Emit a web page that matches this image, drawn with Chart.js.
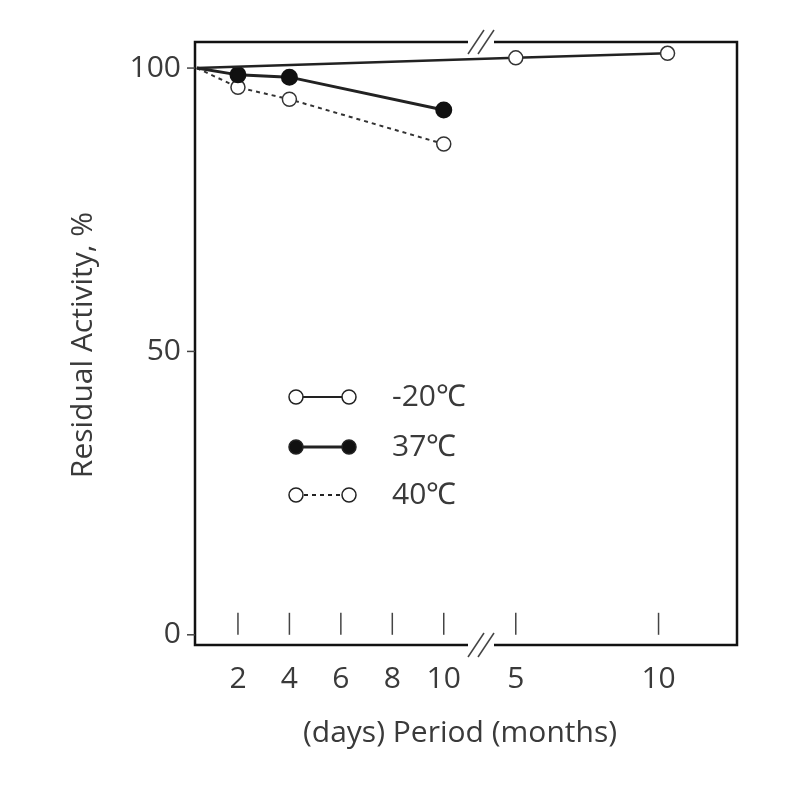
<!DOCTYPE html>
<html><head><script src="https://cdn.jsdelivr.net/npm/chart.js@4"></script>
<style>body{margin:0;background:#fff}</style></head>
<body><div style="width:800px;height:800px"><canvas id="c"></canvas></div>
<script>
// x positions: days map directly; months placed after axis break
const xTickPos = [2, 4, 6, 8, 10, 12.8, 18.35];
const xTickLabels = ['2', '4', '6', '8', '10', '5', '10'];
const yTicks = [0, 50, 100];
const minus20X = [0.4, 12.8, 18.7];
const minus20Y = [100, 101.8, 102.6];
const c37X = [0.4, 2, 4, 10];
const c37Y = [100, 98.8, 98.4, 92.6];
const c40X = [0.4, 2, 4, 10];
const c40Y = [100, 96.6, 94.5, 86.6];
const legendLabels = ['-20℃', '37℃', '40℃'];
const pts = (xs, ys) => xs.map((x, i) => ({x, y: ys[i]}));
const font = '"Open Sans", sans-serif';
const deco = {
  id: 'deco',
  afterDraw(ch) {
    const {ctx, chartArea: a, scales: {x, y}} = ch;
    ctx.save();
    ctx.strokeStyle = '#111'; ctx.lineWidth = 2.5;
    const bx1 = 468, bx2 = 494;
    ctx.beginPath();
    ctx.moveTo(bx1, a.top); ctx.lineTo(a.left, a.top); ctx.lineTo(a.left, a.bottom); ctx.lineTo(bx1, a.bottom);
    ctx.moveTo(bx2, a.bottom); ctx.lineTo(a.right, a.bottom); ctx.lineTo(a.right, a.top); ctx.lineTo(bx2, a.top);
    ctx.stroke();
    ctx.lineWidth = 1.5; ctx.strokeStyle = '#444';
    for (const yy of [a.top, a.bottom]) {
      for (const dx of [-5, 5]) {
        ctx.beginPath(); ctx.moveTo(481 + dx - 8, yy + 12); ctx.lineTo(481 + dx + 8, yy - 12); ctx.stroke();
      }
    }
    ctx.fillStyle = '#3a3a3a'; ctx.font = '30px ' + font;
    ctx.textAlign = 'center'; ctx.textBaseline = 'middle';
    xTickPos.forEach((v, i) => {
      const px = x.getPixelForValue(v);
      ctx.beginPath(); ctx.moveTo(px, y.getPixelForValue(0) - 22); ctx.lineTo(px, y.getPixelForValue(0)); ctx.stroke();
      ctx.fillText(xTickLabels[i], px, a.bottom + 34);
    });
    ctx.textAlign = 'right';
    yTicks.forEach(v => {
      const py = y.getPixelForValue(v);
      ctx.beginPath(); ctx.moveTo(a.left - 8, py); ctx.lineTo(a.left, py); ctx.stroke();
      ctx.fillText(String(v), a.left - 14, py);
    });
    ctx.textAlign = 'center';
    ctx.fillText('(days) Period (months)', 460, 733);
    ctx.save(); ctx.translate(83, 345); ctx.rotate(-Math.PI / 2);
    ctx.fillText('Residual Activity, %', 0, 0); ctx.restore();
    // legend
    const ly = [397, 447, 495];
    const fills = ['#fff', '#111', '#fff'];
    const dashes = [[], [], [4, 4]];
    ly.forEach((yy, i) => {
      ctx.strokeStyle = '#222'; ctx.lineWidth = i === 1 ? 3 : 2; ctx.setLineDash(dashes[i]);
      ctx.beginPath(); ctx.moveTo(296, yy); ctx.lineTo(349, yy); ctx.stroke(); ctx.setLineDash([]);
      for (const cx of [296, 349]) {
        ctx.beginPath(); ctx.arc(cx, yy, 7, 0, Math.PI * 2); ctx.fillStyle = fills[i]; ctx.fill();
        ctx.lineWidth = 1.5; ctx.stroke();
      }
      ctx.fillStyle = '#3a3a3a'; ctx.textAlign = 'left';
      ctx.fillText(legendLabels[i], 392, yy);
    });
    ctx.restore();
  }
};
new Chart(document.getElementById('c'), {
  type: 'scatter',
  data: { datasets: [
    {data: pts(minus20X, minus20Y), showLine: true, borderColor: '#222', borderWidth: 2.5, pointBackgroundColor: '#fff', pointBorderColor: '#333', pointRadius: [0, 7, 7], pointBorderWidth: 1.5},
    {data: pts(c37X, c37Y), showLine: true, borderColor: '#222', borderWidth: 3, pointBackgroundColor: '#111', pointBorderColor: '#111', pointRadius: [0, 7, 7, 7]},
    {data: pts(c40X, c40Y), showLine: true, borderColor: '#333', borderWidth: 2, borderDash: [4, 4], pointBackgroundColor: '#fff', pointBorderColor: '#333', pointRadius: [0, 7, 7, 7], pointBorderWidth: 1.5}
  ]},
  options: {
    responsive: true, maintainAspectRatio: false, animation: false,
    layout: {padding: {left: 195, right: 63, top: 42, bottom: 155}},
    plugins: {legend: {display: false}, tooltip: {enabled: false}},
    scales: {
      x: {type: 'linear', min: 0.33, max: 21.4, display: false},
      y: {min: -1.8, max: 104.6, display: false}
    }
  },
  plugins: [deco]
});
</script></body></html>
